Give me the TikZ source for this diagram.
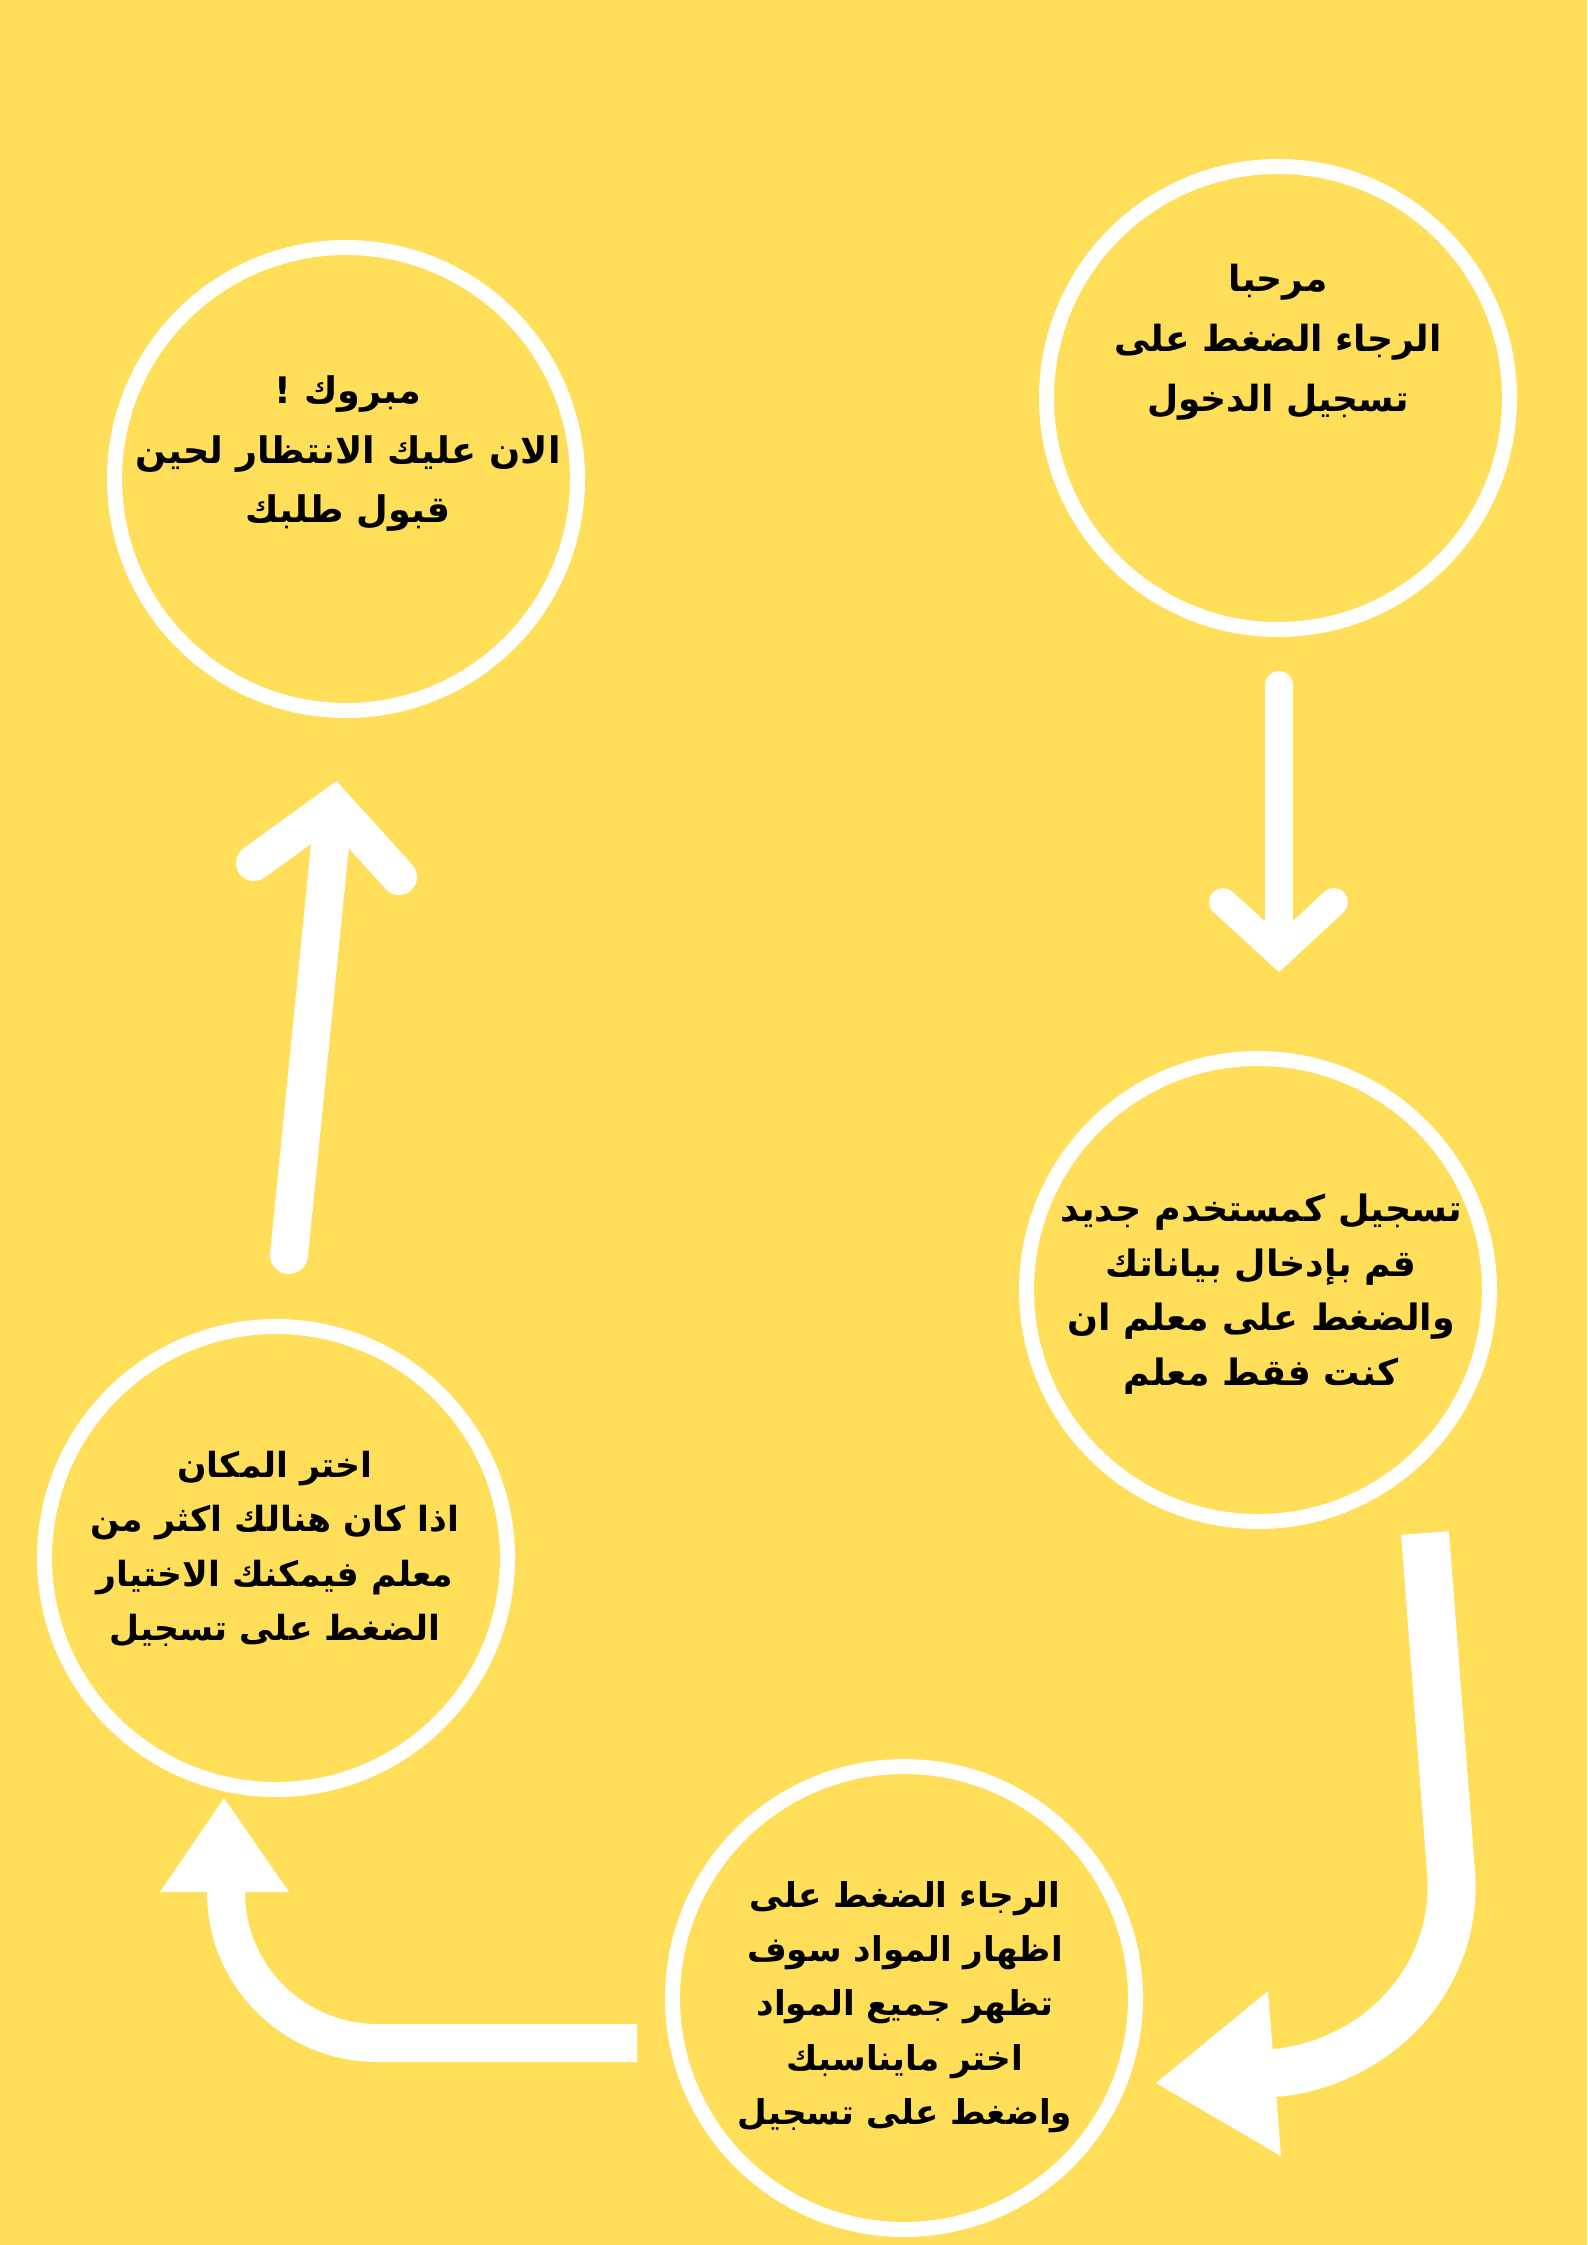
\documentclass[tikz,border=0pt]{standalone}
\usepackage{fontspec}
\newfontfamily\arabicfont[Script=Arabic]{DejaVu Sans}
\TeXXeTstate=1
\definecolor{bgyellow}{HTML}{FFDE59}
\tikzset{
  ring/.style={circle, draw=white, line width=15pt, minimum size=463pt, inner sep=0pt},
  txt/.style 2 args={align=center, text=black, font=\arabicfont\bfseries\fontsize{#1}{#2}\selectfont},
  shaft/.style={draw=white, line cap=round},
  chev/.style={draw=white, line cap=round, line join=miter},
  band/.style={draw=white, line cap=butt},
  head/.style={fill=white}
}
\begin{document}
\begin{tikzpicture}[x=1pt, y=-1pt]
\fill[bgyellow] (0,0) rectangle (1587,2245);
\useasboundingbox (0,0) rectangle (1587,2245);

% circles
\node[ring] (c1) at (1278,398) {};
\node[ring] (c2) at (346,479) {};
\node[ring] (c3) at (1258,1290) {};
\node[ring] (c4) at (276,1558) {};
\node[ring] (c5) at (904,1998) {};

% texts
\node[txt={36}{60}] (t1) at (1278,342) {\beginR مرحبا\endR\\\beginR الرجاء الضغط على\endR\\\beginR تسجيل الدخول\endR};
\node[txt={36.6}{59.5}] (t2) at (348,454) {\beginR مبروك !\endR\\\beginR الان عليك الانتظار لحين\endR\\\beginR قبول طلبك\endR};
\node[txt={36.3}{54.5}] (t3) at (1261,1294) {\beginR تسجيل كمستخدم جديد\endR\\\beginR قم بإدخال بياناتك\endR\\\beginR والضغط على معلم ان\endR\\\beginR كنت فقط معلم\endR};
\node[txt={34.6}{54.5}] (t4) at (275,1549) {\beginR اختر المكان\endR\\\beginR اذا كان هنالك اكثر من\endR\\\beginR معلم فيمكنك الاختيار\endR\\\beginR الضغط على تسجيل\endR};
\node[txt={34.2}{54.2}] (t5) at (905,2007) {\beginR الرجاء الضغط على\endR\\\beginR اظهار المواد سوف\endR\\\beginR تظهر جميع المواد\endR\\\beginR اختر مايناسبك\endR\\\beginR واضغط على تسجيل\endR};

% arrow A: c1 -> c3
\coordinate (a0) at (1279,685);
\coordinate (a1) at (1279,953);
\coordinate (aL) at (1223,902);
\coordinate (aR) at (1334,902);
\draw[shaft, line width=28pt] (a0) -- (a1);
\draw[chev, line width=28pt] (aL) -- (a1) -- (aR);

% arrow C: c3 -> c5
\coordinate (k0) at (1425,1533);
\coordinate (k1) at (1451,1872);
\coordinate (k2) at (1274,2073);
\coordinate (kA) at (1268,1991);
\coordinate (kT) at (1156,2083);
\coordinate (kB) at (1281,2156);
\draw[band, line width=48pt] (k0) -- (k1) .. controls (1459.5,1982) and (1371.7,2065) .. (k2);
\fill[head] (kA) -- (kT) -- (kB) -- cycle;

% arrow D: c5 -> c4
\coordinate (d0) at (637,2043);
\coordinate (d1) at (378,2043);
\coordinate (d2) at (226,1892);
\coordinate (dA) at (160,1892);
\coordinate (dT) at (224,1798);
\coordinate (dB) at (289,1892);
\draw[band, line width=38pt] (d0) -- (d1) .. controls (294,2043) and (226,1976) .. (d2);
\fill[head] (dA) -- (dT) -- (dB) -- cycle;

% arrow B: c4 -> c2
\coordinate (b0) at (289,1255);
\coordinate (b1) at (334,805);
\coordinate (bL) at (254,863);
\coordinate (bR) at (399,877);
\draw[shaft, line width=38pt, line cap=butt] (b0) -- (b1);
\fill[white] (b0) circle (19pt);
\draw[chev, line width=36pt] (bL) -- (b1) -- (bR);
\end{tikzpicture}
\end{document}
